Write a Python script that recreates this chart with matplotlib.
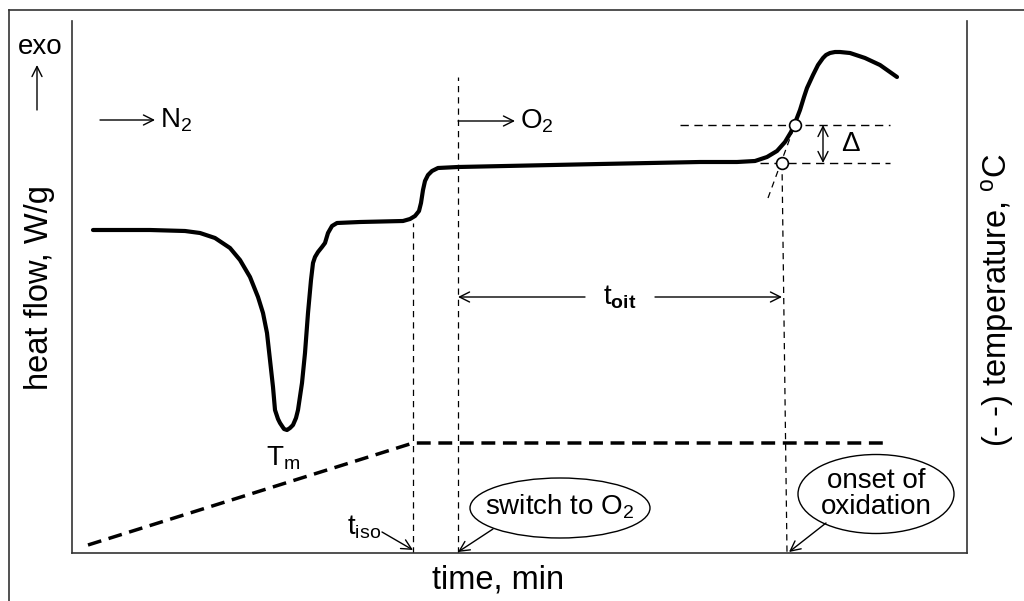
import matplotlib
matplotlib.use("Agg")
import matplotlib.pyplot as plt
from matplotlib.lines import Line2D
from matplotlib.patches import Ellipse

plt.rcParams["font.family"] = ["Liberation Sans", "DejaVu Sans"]
plt.rcParams["mathtext.fontset"] = "custom"
plt.rcParams["mathtext.rm"] = "Liberation Sans"
plt.rcParams["mathtext.it"] = "Liberation Sans"
plt.rcParams["mathtext.bf"] = "Liberation Sans:bold"

# DSC heat-flow trace (schematic units)
heat_time = [2.1, 7.8, 11.3, 12.8, 14.3, 15.8, 16.8, 17.8, 18.6, 19.1, 19.5,
             19.8, 20.1, 20.3, 20.6, 20.8, 21.2, 21.5, 21.8, 22.1, 22.4, 22.6,
             23.0, 23.3, 23.6, 23.9, 24.1, 24.3, 24.6, 25.0, 25.3, 25.6, 26.0,
             26.5, 28.8, 33.1, 33.8, 34.3, 34.7, 34.9, 35.1, 35.3, 35.6, 36.0,
             36.6, 38.6, 52.8, 62.8, 66.5, 68.3, 69.5, 70.5, 71.3, 71.9, 72.3,
             72.8, 73.2, 73.5, 74.1, 74.6, 75.1, 75.4, 75.8, 76.3, 76.8, 77.8,
             79.3, 80.8, 82.5]
heat_flow = [32.3, 32.3, 32.2, 32.0, 31.5, 30.5, 29.3, 27.6, 25.6, 24.0, 22.0,
             19.3, 16.6, 14.3, 13.4, 13.0, 12.4, 12.3, 12.5, 12.8, 13.5, 14.3,
             17.0, 20.0, 24.0, 27.3, 29.0, 29.6, 30.1, 30.6, 31.0, 32.0, 32.7,
             33.0, 33.1, 33.2, 33.4, 33.7, 34.2, 35.0, 36.3, 37.2, 37.8, 38.2,
             38.5, 38.6, 38.9, 39.1, 39.1, 39.2, 39.6, 40.2, 41.1, 42.1, 43.0,
             44.3, 45.6, 46.5, 47.8, 48.8, 49.5, 49.8, 50.0, 50.1, 50.1, 50.0,
             49.5, 48.8, 47.6]

# Temperature program: ramp, then isothermal hold
temp_time = [1.6, 34.1, 81.6]
temp_value = [0.8, 11.0, 11.0]

# Characteristic times and levels
t_iso = 34.1
t_switch = 38.6
t_onset = 71.0
baseline_level = 39.0
offset_level = 42.8
t_offset = 72.3
tangent_time = [69.6, 72.1]
tangent_level = [35.5, 42.3]

fig = plt.figure(figsize=(10.24, 6.01), dpi=100)
W, H = 1024, 601
ax = fig.add_axes([72 / W, 1 - 553 / H, (967 - 72) / W, (553 - 21) / H])
ax.set_xlim(0, 89.5)
ax.set_ylim(0, 53.2)
ax.set_xticks([])
ax.set_yticks([])
ax.spines["top"].set_visible(False)
for s in ("left", "right", "bottom"):
    ax.spines[s].set_linewidth(1.2)
    ax.spines[s].set_color("#333333")

# outer frame
fig.add_artist(Line2D([9 / W, 1], [1 - 10 / H, 1 - 10 / H], color="#333333", lw=1.2,
                      transform=fig.transFigure))
fig.add_artist(Line2D([9 / W, 9 / W], [0, 1 - 10 / H], color="#333333", lw=1.2,
                      transform=fig.transFigure))

thin = dict(color="black", lw=0.9, linestyle=(0, (5, 4)))

# guide lines
ax.plot([t_iso, t_iso], [0, 33.0], **thin)
ax.plot([t_switch, t_switch], [0, 47.6], **thin)
ax.plot([t_onset, t_onset + 0.5], [baseline_level, 0], **thin)
ax.plot([60.8, 81.8], [offset_level, offset_level], color="black", lw=1.0,
        linestyle=(0, (6, 4)))
ax.plot([68.8, 81.8], [baseline_level, baseline_level], color="black", lw=1.0,
        linestyle=(0, (6, 4)))
ax.plot(tangent_time, tangent_level, **thin)

# temperature program
ax.plot(temp_time, temp_value, color="black", lw=2.5, linestyle=(0, (4, 2.2)))

# heat flow
ax.plot(heat_time, heat_flow, color="black", lw=3.0, solid_joinstyle="round",
        solid_capstyle="round", zorder=4)

# onset / offset markers
ax.plot([t_offset, t_onset], [offset_level, baseline_level], "o", ms=8.5,
        mfc="white", mec="black", mew=1.2, zorder=5)

arrow_thin = dict(arrowstyle="->", color="black", lw=1.0, mutation_scale=18,
                  shrinkA=0, shrinkB=0)

# Δ
ax.annotate("", xy=(75.1, offset_level), xytext=(75.1, baseline_level),
            arrowprops=dict(arrowstyle="<->", color="black", lw=1.0,
                            mutation_scale=18, shrinkA=0, shrinkB=0))
ax.text(76.9, 40.9, "Δ", fontsize=20, ha="left", va="center")

# t_oit
ax.annotate("", xy=(t_switch, 25.6), xytext=(51.3, 25.6), arrowprops=arrow_thin)
ax.annotate("", xy=(t_onset, 25.6), xytext=(58.3, 25.6), arrowprops=arrow_thin)
ax.text(54.8, 25.6, r"t$_{\mathbf{oit}}$", fontsize=20, ha="center", va="center")

# gas labels
ax.annotate("", xy=(8.3, 43.3), xytext=(2.8, 43.3), arrowprops=arrow_thin)
ax.text(8.8, 43.3, r"N$_\mathregular{2}$", fontsize=20, ha="left", va="center")
ax.annotate("", xy=(44.3, 43.2), xytext=(t_switch, 43.2), arrowprops=arrow_thin)
ax.text(44.8, 43.2, r"O$_\mathregular{2}$", fontsize=20, ha="left", va="center")

# T_m
ax.text(21.1, 9.5, r"T$_\mathregular{m}$", fontsize=20, ha="center", va="center")

# t_iso
ax.text(30.9, 2.6, r"t$_\mathregular{iso}$", fontsize=20, ha="right", va="center")
ax.annotate("", xy=(t_iso, 0.3), xytext=(31.0, 2.1), arrowprops=arrow_thin)

# callouts
ax.add_patch(Ellipse((48.8, 4.5), 18.0, 6.0, fill=False, ec="black", lw=1.0))
ax.text(48.8, 4.6, r"switch to O$_\mathregular{2}$", fontsize=20, ha="center",
        va="center")
ax.annotate("", xy=(t_switch, 0.1), xytext=(42.1, 2.4), arrowprops=arrow_thin)

ax.add_patch(Ellipse((80.4, 5.9), 15.6, 7.9, fill=False, ec="black", lw=1.0))
ax.text(80.4, 5.9, "onset of\noxidation", fontsize=20, ha="center", va="center",
        linespacing=1.0)
ax.annotate("", xy=(71.7, 0.1), xytext=(75.4, 3.0), arrowprops=arrow_thin)

# axis labels
fig.text(498 / W, 1 - 580 / H, "time, min", fontsize=23.5, ha="center", va="center")
fig.text(40 / W, 1 - 287 / H, "heat flow, W/g", fontsize=23.5, ha="center",
         va="center", rotation=90)
fig.text(997 / W, 1 - 300 / H, r"(- -) temperature, $^\mathregular{o}$C",
         fontsize=23.5, ha="center", va="center", rotation=90)

# exo marker
fig.text(40 / W, 1 - 47 / H, "exo", fontsize=20, ha="center", va="center")
ax.annotate("", xy=(37, H - 65), xytext=(37, H - 110), xycoords="figure pixels",
            textcoords="figure pixels", arrowprops=arrow_thin)

fig.savefig("out.png", dpi=100)
